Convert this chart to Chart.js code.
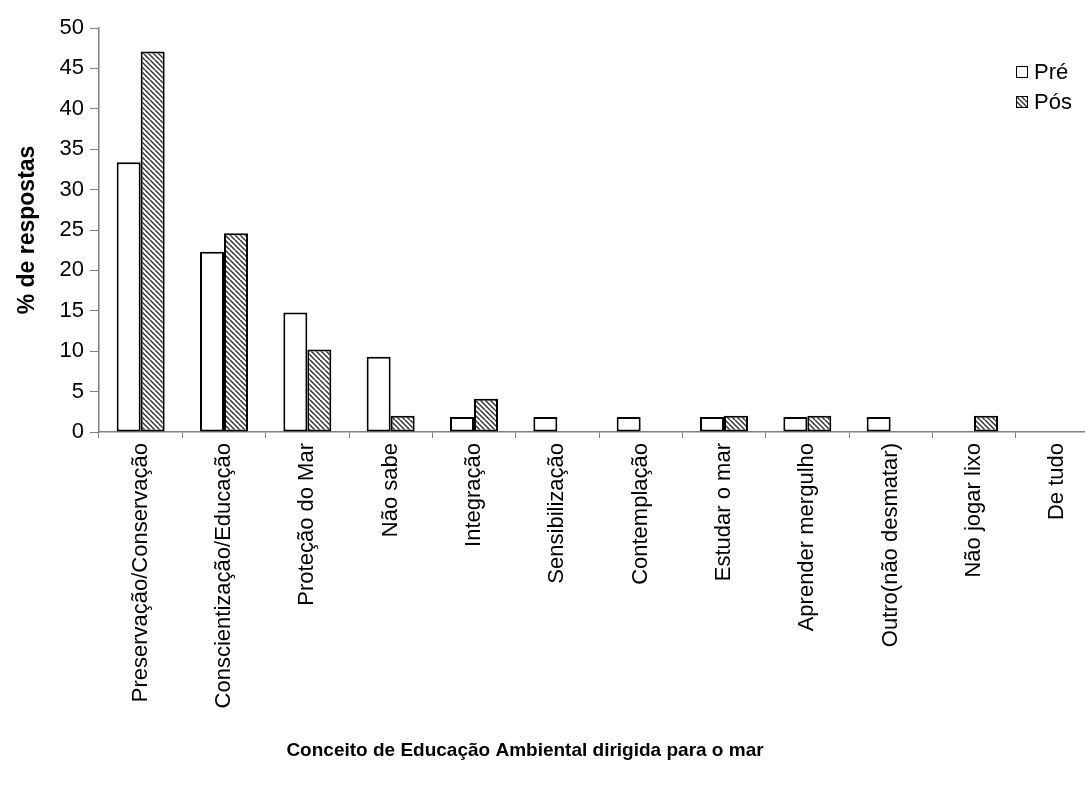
<!DOCTYPE html>
<html><head><meta charset="utf-8">
<script src="https://cdn.jsdelivr.net/npm/chart.js@4.4.1/dist/chart.umd.min.js"></script>
<style>html,body{margin:0;padding:0;background:#fff;overflow:hidden}#wrap{width:1085px;height:785px;overflow:hidden;position:relative}canvas{display:block}</style>
</head><body><div id="wrap"><canvas id="c" width="1100" height="785"></canvas></div>
<script>
const categories = ['Preservação/Conservação','Conscientização/Educação','Proteção do Mar','Não sabe','Integração','Sensibilização','Contemplação','Estudar o mar','Aprender mergulho','Outro(não desmatar)','Não jogar lixo','De tudo'];
const seriesNames = ['Pré','Pós'];
const preValues = [33.4, 22.3, 14.8, 9.3, 1.85, 1.85, 1.85, 1.85, 1.85, 1.85, 0, 0];
const posValues = [47.1, 24.6, 10.2, 2.0, 4.1, 0, 0, 2.0, 2.0, 0, 2.0, 0];
const yMin = 0, yMax = 50, yStep = 5;
const xTitle = 'Conceito de Educação Ambiental dirigida para o mar';
const yTitle = '% de respostas';

const FONT = "'Liberation Sans', Arial, sans-serif";

function hatch(){
  const c = document.createElement('canvas'); c.width = c.height = 10;
  const g = c.getContext('2d');
  g.fillStyle = '#fff'; g.fillRect(0,0,10,10);
  g.strokeStyle = '#333'; g.lineWidth = 1.5;
  for (let k = -10; k <= 10; k += 5){ g.beginPath(); g.moveTo(k,0); g.lineTo(k+10,10); g.stroke(); }
  return g.createPattern(c,'repeat');
}
const hatchFill = hatch();

const customLegend = {
  id: 'customLegend',
  afterDraw(chart){
    const ctx = chart.ctx;
    ctx.save();
    chart.data.datasets.forEach((ds, i) => {
      const cy = 72 + i * 30;
      ctx.fillStyle = ds.backgroundColor;
      ctx.fillRect(1016, cy - 6, 12, 12);
      ctx.strokeStyle = '#000'; ctx.lineWidth = 1;
      ctx.strokeRect(1016.5, cy - 5.5, 11, 11);
      ctx.fillStyle = '#000';
      ctx.font = '22px ' + FONT;
      ctx.textBaseline = 'middle'; ctx.textAlign = 'left';
      ctx.fillText(ds.label, 1034, cy + 1);
    });
    ctx.restore();
  }
};
const xTitlePlugin = {
  id: 'xTitle',
  afterDraw(chart){
    const ctx = chart.ctx;
    ctx.save();
    ctx.fillStyle = '#000';
    ctx.font = 'bold 19px ' + FONT;
    ctx.textAlign = 'center'; ctx.textBaseline = 'middle';
    ctx.fillText(xTitle, 525, 751);
    ctx.restore();
  }
};

const bw = c => (c.raw === 0 ? 0 : 2);

new Chart(document.getElementById('c'), {
  type: 'bar',
  data: {
    labels: categories,
    datasets: [
      { label: seriesNames[0], data: preValues, backgroundColor: '#ffffff', borderColor: '#000', borderWidth: bw, borderSkipped: false, barPercentage: 1, categoryPercentage: 0.576 },
      { label: seriesNames[1], data: posValues, backgroundColor: hatchFill, borderColor: '#000', borderWidth: bw, borderSkipped: false, barPercentage: 1, categoryPercentage: 0.576 }
    ]
  },
  options: {
    responsive: false,
    animation: false,
    layout: { padding: { top: 28, right: 1, bottom: 0, left: 0 } },
    plugins: { legend: { display: false }, tooltip: { enabled: false }, title: { display: false } },
    scales: {
      x: {
        offset: true,
        grid: { offset: true, drawOnChartArea: false, drawTicks: true, tickLength: 6, color: '#808080' },
        border: { color: '#808080', width: 1.5 },
        ticks: { color: '#000', font: { family: FONT, size: 22 }, minRotation: 90, maxRotation: 90, autoSkip: false, padding: 5 },
        afterFit(s){ s.height = 353; }
      },
      y: {
        min: yMin, max: yMax,
        grid: { drawOnChartArea: false, drawTicks: true, tickLength: 9, color: '#808080' },
        border: { color: '#808080', width: 1.5 },
        ticks: { stepSize: yStep, color: '#000', font: { family: FONT, size: 22 }, padding: 6 },
        title: { display: true, text: yTitle, color: '#000', font: { family: FONT, size: 23, weight: 'bold' }, padding: { top: 14, bottom: 0 } },
        afterFit(s){ s.width = 99; }
      }
    }
  },
  plugins: [customLegend, xTitlePlugin]
});
</script>
</body></html>
